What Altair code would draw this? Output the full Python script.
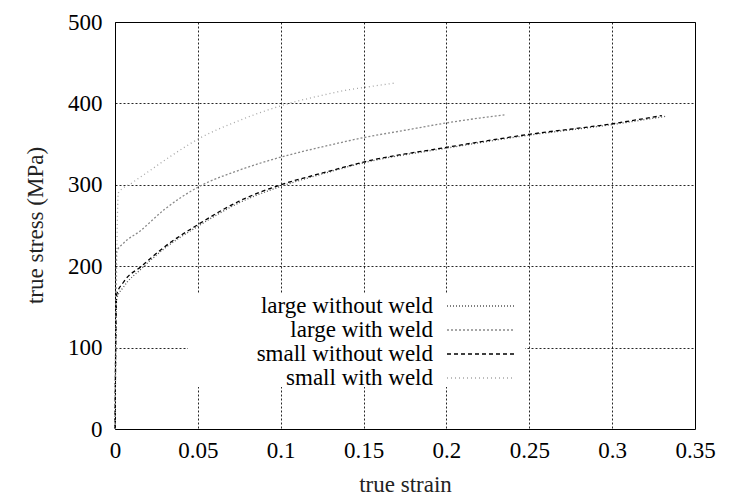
import altair as alt
import pandas as pd

series = ["large without weld", "large with weld", "small without weld", "small with weld"]
colors = ["#555555", "#8a8a8a", "#000000", "#a6a6a6"]
dashes = [[1, 2], [2, 2], [4, 3], [1, 3]]

lw_strain = [0, 0.001, 0.005, 0.016, 0.03, 0.05, 0.075, 0.1, 0.128, 0.15, 0.2, 0.25, 0.3, 0.332]
lw_stress = [0, 160, 174, 197, 222, 249, 278, 298, 315, 327, 345, 361, 374, 384]

lww_strain = [0, 0.001, 0.005, 0.015, 0.03, 0.05, 0.075, 0.1, 0.128, 0.15, 0.175, 0.2, 0.22, 0.235]
lww_stress = [0, 218, 228, 243, 270, 297, 318, 334, 348, 358, 367, 376, 382, 386]

sw_strain = [0, 0.001, 0.005, 0.016, 0.03, 0.05, 0.075, 0.1, 0.128, 0.15, 0.2, 0.25, 0.3, 0.33]
sw_stress = [0, 165, 180, 200, 224, 251, 280, 300, 316, 328, 346, 362, 375, 385]

sww_strain = [0, 0.002, 0.01, 0.02, 0.035, 0.05, 0.075, 0.1, 0.125, 0.139, 0.155, 0.169]
sww_stress = [0, 290, 302, 316, 337, 356, 379, 397, 410, 416, 421, 425]

x_ticks = [0, 0.05, 0.1, 0.15, 0.2, 0.25, 0.3, 0.35]
y_ticks = [0, 100, 200, 300, 400, 500]

rows = []
for name, xs, ys in zip(series,
                        [lw_strain, lww_strain, sw_strain, sww_strain],
                        [lw_stress, lww_stress, sw_stress, sww_stress]):
    for i, (x, y) in enumerate(zip(xs, ys)):
        rows.append({"series": name, "strain": x, "stress": y, "order": i})
df = pd.DataFrame(rows)

FONT = "Liberation Serif"
FS = 23

color = alt.Color("series:N", scale=alt.Scale(domain=series, range=colors), legend=None)
dash = alt.StrokeDash("series:N", scale=alt.Scale(domain=series, range=dashes), legend=None)

x_enc = alt.X("strain:Q", scale=alt.Scale(domain=[0, 0.35], nice=False, zero=False),
              axis=alt.Axis(values=x_ticks, format="~g", title="true strain",
                            titleY=62, titleBaseline="alphabetic", labelPadding=10,
                            labelFlush=False, labelFont=FONT, labelFontSize=FS))
y_enc = alt.Y("stress:Q", scale=alt.Scale(domain=[0, 500], nice=False),
              axis=alt.Axis(values=y_ticks, title="true stress (MPa)",
                            titleX=-80, titleY=203, titleAngle=270, titleAlign="center",
                            titleBaseline="middle", labelPadding=13, labelFlush=False,
                            labelFont=FONT, labelFontSize=FS))

lines = alt.Chart(df).mark_line(strokeWidth=1.3, interpolate="monotone").encode(
    x=x_enc, y=y_enc, color=color, strokeDash=dash, order="order:Q", detail="series:N"
)

box = alt.Chart(pd.DataFrame({"a": [0]})).mark_rect(fill="white").encode(
    x=alt.value(73), x2=alt.value(410), y=alt.value(271), y2=alt.value(365)
)

layers = [box, lines]
for i, name in enumerate(series):
    ldf = pd.DataFrame({"series": [name]})
    yy = 284 + 24 * i
    layers.append(
        alt.Chart(ldf).mark_text(align="right", baseline="middle", font=FONT,
                                 fontSize=FS, color="black").encode(
            x=alt.value(318), y=alt.value(yy), text="series:N")
    )
    layers.append(
        alt.Chart(ldf).mark_rule(strokeWidth=1.3).encode(
            x=alt.value(332), x2=alt.value(400), y=alt.value(yy),
            color=color, strokeDash=dash)
    )

chart = alt.layer(*layers).properties(
    width=580, height=407,
    autosize=alt.AutoSizeParams(type="none"),
    padding={"left": 115, "top": 22, "right": 38, "bottom": 68},
    background="white",
).configure_view(stroke="black", strokeWidth=1).configure_axis(
    grid=True, gridColor="black", gridDash=[2, 2], gridWidth=1, gridOpacity=0.85,
    domain=False, ticks=False,
    labelFont=FONT, labelFontSize=FS, labelColor="black",
    titleFont=FONT, titleFontSize=FS, titleColor="#222222", titleFontWeight="normal",
)

chart.save("out.html", embed_options={"renderer": "svg", "actions": False})
